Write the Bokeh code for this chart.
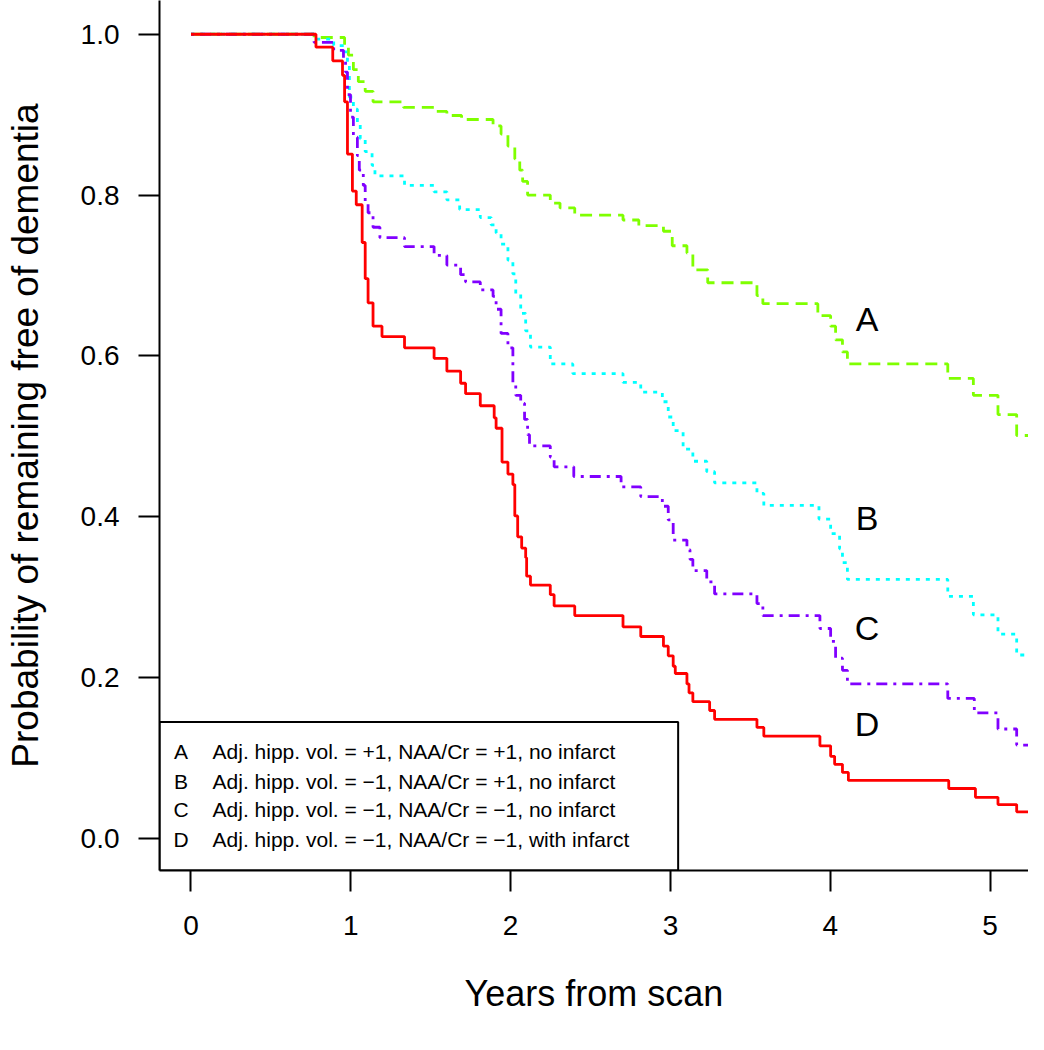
from bokeh.plotting import figure
from bokeh.models import Range1d, FixedTicker, PrintfTickFormatter, BoxAnnotation
from bokeh.embed import file_html
from bokeh.resources import INLINE
from bokeh.core.properties import value

# ---- data (years from scan, probability remaining free of dementia) ----
time_A = [0.770, 0.961, 0.985, 1.016, 1.047, 1.090, 1.139, 1.330, 1.527, 1.601, 1.693, 1.890,
          1.940, 1.983, 2.026, 2.057, 2.075, 2.106, 2.248, 2.309, 2.401, 2.703, 2.802, 2.956,
          3.011, 3.103, 3.140, 3.233, 3.541, 3.578, 3.922, 4.002, 4.033, 4.076, 4.107, 4.735,
          4.895, 5.049, 5.166]
surv_A = [0.996, 0.984, 0.974, 0.956, 0.941, 0.929, 0.916, 0.909, 0.904, 0.899, 0.894, 0.886,
          0.876, 0.861, 0.845, 0.831, 0.817, 0.800, 0.790, 0.784, 0.775, 0.769, 0.762, 0.755,
          0.737, 0.728, 0.707, 0.691, 0.675, 0.665, 0.650, 0.637, 0.620, 0.605, 0.590, 0.572,
          0.551, 0.527, 0.501]

time_B = [0.770, 0.893, 0.961, 0.979, 0.991, 1.016, 1.041, 1.059, 1.090, 1.133, 1.151, 1.336,
          1.521, 1.601, 1.681, 1.810, 1.878, 1.909, 1.940, 1.983, 2.014, 2.032, 2.063, 2.094,
          2.124, 2.248, 2.389, 2.703, 2.814, 2.949, 2.986, 3.017, 3.079, 3.140, 3.227, 3.276,
          3.541, 3.584, 3.929, 4.002, 4.058, 4.076, 4.107, 4.735, 4.895, 5.049, 5.166]
surv_B = [0.994, 0.986, 0.978, 0.962, 0.922, 0.907, 0.891, 0.870, 0.854, 0.837, 0.824, 0.812,
          0.804, 0.794, 0.782, 0.772, 0.763, 0.753, 0.739, 0.719, 0.702, 0.677, 0.653, 0.631,
          0.611, 0.590, 0.578, 0.567, 0.555, 0.543, 0.524, 0.507, 0.484, 0.469, 0.456, 0.442,
          0.429, 0.414, 0.397, 0.379, 0.360, 0.343, 0.322, 0.301, 0.278, 0.254, 0.228]

time_C = [0.770, 0.893, 0.954, 0.967, 0.979, 0.998, 1.016, 1.041, 1.053, 1.078, 1.090, 1.108,
          1.139, 1.182, 1.336, 1.521, 1.601, 1.687, 1.718, 1.810, 1.890, 1.909, 1.940, 1.983,
          2.014, 2.032, 2.063, 2.087, 2.106, 2.118, 2.248, 2.272, 2.395, 2.691, 2.814, 2.949,
          2.986, 3.017, 3.103, 3.122, 3.140, 3.227, 3.276, 3.541, 3.578, 3.935, 4.002, 4.033,
          4.076, 4.107, 4.735, 4.901, 5.049, 5.166]
surv_C = [0.990, 0.980, 0.968, 0.953, 0.925, 0.897, 0.872, 0.849, 0.831, 0.812, 0.790, 0.778,
          0.760, 0.747, 0.736, 0.725, 0.713, 0.701, 0.692, 0.682, 0.674, 0.658, 0.628, 0.610,
          0.567, 0.551, 0.541, 0.521, 0.502, 0.488, 0.474, 0.462, 0.450, 0.437, 0.425, 0.413,
          0.396, 0.371, 0.359, 0.347, 0.333, 0.319, 0.304, 0.292, 0.277, 0.261, 0.245, 0.224,
          0.209, 0.192, 0.174, 0.156, 0.136, 0.116]

time_D = [0.782, 0.887, 0.948, 0.961, 0.979, 1.010, 1.034, 1.071, 1.090, 1.108, 1.139, 1.195,
          1.336, 1.521, 1.601, 1.687, 1.718, 1.810, 1.897, 1.909, 1.946, 1.983, 2.014, 2.026,
          2.044, 2.069, 2.094, 2.100, 2.124, 2.248, 2.272, 2.401, 2.703, 2.814, 2.956, 2.986,
          3.017, 3.030, 3.103, 3.116, 3.140, 3.245, 3.276, 3.541, 3.584, 3.935, 4.002, 4.027,
          4.076, 4.113, 4.741, 4.908, 5.049, 5.166]
surv_D = [0.984, 0.967, 0.949, 0.916, 0.851, 0.805, 0.788, 0.741, 0.696, 0.666, 0.637, 0.624,
          0.610, 0.597, 0.581, 0.566, 0.553, 0.538, 0.523, 0.510, 0.468, 0.453, 0.440, 0.401,
          0.375, 0.361, 0.349, 0.326, 0.315, 0.303, 0.289, 0.277, 0.263, 0.251, 0.239, 0.227,
          0.214, 0.205, 0.192, 0.181, 0.170, 0.159, 0.148, 0.138, 0.127, 0.115, 0.102, 0.092,
          0.082, 0.072, 0.062, 0.051, 0.042, 0.033]

follow_up_end = 5.3

group_letters = ["A", "B", "C", "D"]
group_descriptions = [
    "Adj. hipp. vol. = +1, NAA/Cr = +1, no infarct",
    "Adj. hipp. vol. = \u22121, NAA/Cr = +1, no infarct",
    "Adj. hipp. vol. = \u22121, NAA/Cr = \u22121, no infarct",
    "Adj. hipp. vol. = \u22121, NAA/Cr = \u22121, with infarct",
]
x_ticks = [0, 1, 2, 3, 4, 5]
y_ticks = [0.0, 0.2, 0.4, 0.6, 0.8, 1.0]

# ---- layout constants ----
FONT = "Liberation Sans"
label_pos_x = 4.23
label_pos_y = [0.646, 0.399, 0.261, 0.142]
legend_right = 3.048
legend_top = 0.1446
legend_row_y = [0.108, 0.071, 0.0355, -0.001]
legend_letter_x = -0.062
legend_text_x = 0.135

styles = [
    dict(color="#7FFF00", dash="12 7"),
    dict(color="#00FFFF", dash="4 6"),
    dict(color="#8000FF", dash="3 6 11 6"),
    dict(color="#FF0000", dash="solid"),
]

p = figure(width=1028, height=1034, output_backend="svg", toolbar_location=None,
           x_range=Range1d(-0.197, 5.24), y_range=Range1d(-0.04, 1.042),
           min_border_left=159, min_border_right=0, min_border_top=0, min_border_bottom=164)
p.outline_line_color = None
p.xgrid.visible = False
p.ygrid.visible = False
p.background_fill_color = "white"
p.border_fill_color = "white"

series = [(time_A, surv_A), (time_B, surv_B), (time_C, surv_C), (time_D, surv_D)]
for (t, s), st in zip(series, styles):
    xs = [0.0] + t + [follow_up_end]
    ys = [1.0] + s + [s[-1]]
    p.step(xs, ys, mode="after", line_color=st["color"], line_width=2.8,
           line_dash=st["dash"])

# curve letters
p.text(x=[label_pos_x] * 4, y=label_pos_y, text=group_letters,
       text_font=value(FONT), text_font_size="34px", text_color="black",
       text_align="center", text_baseline="middle")

# legend box
box = BoxAnnotation(left=None, bottom=None, right=legend_right, top=legend_top,
                    fill_color=None, line_color="black", line_alpha=1.0, line_width=2)
p.add_layout(box)
p.text(x=[legend_letter_x] * 4, y=legend_row_y, text=group_letters,
       text_font=value(FONT), text_font_size="21px", text_color="black",
       text_align="center", text_baseline="middle")
p.text(x=[legend_text_x] * 4, y=legend_row_y, text=group_descriptions,
       text_font=value(FONT), text_font_size="21px", text_color="black",
       text_align="left", text_baseline="middle")

# axes
for ax in (p.xaxis[0], p.yaxis[0]):
    ax.axis_line_width = 2
    ax.axis_line_color = "black"
    ax.major_tick_line_width = 2
    ax.major_tick_line_color = "black"
    ax.major_tick_in = 0
    ax.major_tick_out = 21
    ax.minor_tick_line_color = None
    ax.major_label_text_font = FONT
    ax.major_label_text_color = "black"
    ax.major_label_text_font_size = "28px"
    ax.axis_label_text_font = FONT
    ax.axis_label_text_font_style = "normal"
    ax.axis_label_text_color = "black"

p.xaxis.axis_label_text_font_size = "36px"
p.yaxis.axis_label_text_font_size = "37px"
p.xaxis.ticker = FixedTicker(ticks=x_ticks)
p.yaxis.ticker = FixedTicker(ticks=y_ticks)
p.yaxis.formatter = PrintfTickFormatter(format="%.1f")
p.yaxis.major_label_orientation = "horizontal"
p.xaxis.axis_label = "Years from scan"
p.yaxis.axis_label = "Probability of remaining free of dementia"
p.xaxis.major_label_standoff = 24
p.yaxis.major_label_standoff = 19
p.xaxis.axis_label_standoff = 35
p.yaxis.axis_label_standoff = 32

open("out.html", "w").write(file_html(p, INLINE))
